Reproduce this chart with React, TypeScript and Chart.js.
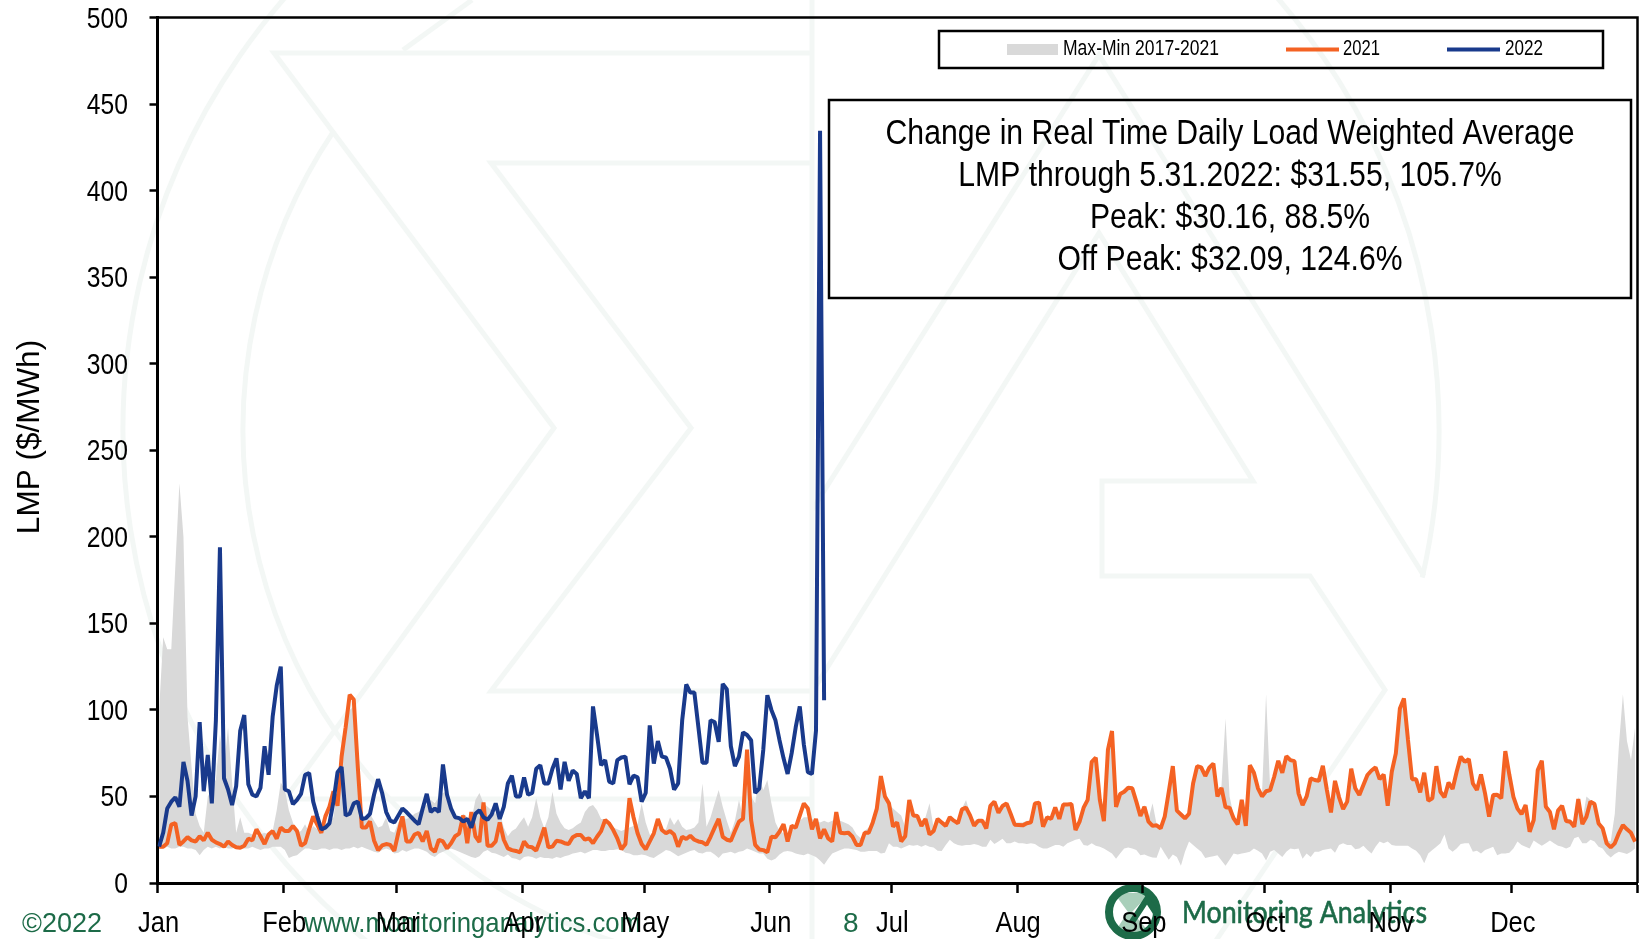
import React, { useEffect, useRef } from "react";
import { Chart, registerables } from "chart.js";

Chart.register(...registerables);

const monthLabels = ["Jan", "Feb", "Mar", "Apr", "May", "Jun", "Jul", "Aug", "Sep", "Oct", "Nov", "Dec", ""];
const monthStarts = [0, 31, 59, 90, 120, 151, 181, 212, 243, 273, 304, 334, 365];
const yTicks = [0, 50, 100, 150, 200, 250, 300, 350, 400, 450, 500];

const lmp2022 = [
  21,29,43,47,49.5,44,70,59,39,50,
  93,53,74,46,94,194,60.5,54,45,56,
  88,97,57,51,50,55,79,62.5,96,114,
  125,54,53,45.5,48,51.5,62.5,63.5,47,38.5,
  31,32,34.5,47,64,67,39,40,46,47,
  37,37.5,40,51,60,52,41,36,35,39,
  43,41,38.5,36,34,43,51.5,41,43,41,
  68.5,51,43,38,37.5,35.5,37,32,40,42,
  38,36.5,39.5,46,37,44,57.5,62,50,50,
  61,51,52,66,68,57.5,57.5,66,72,54,
  70,59,65,63,49,53,49,102,85.5,68,
  71,58.5,57.5,71,72.5,73,57,62,61,47,
  52,91,69,82,73,72.5,66,54,57.5,94,
  114.7,110,110,90,69.5,69.5,94,93,81.5,115,
  112,79,67.5,73,87,85.5,82.5,52,54.5,77,
  108.5,100,94,82.5,72,63,75,90,102,80,
  64,63,88,434.5,105.6,
];

const lmp2021 = [
  21,21,23,33.7,34.6,22,24,26.5,24.6,24,
  27,24.6,29,25,23.5,22.5,21,24,22,20.6,
  20.4,21.5,25.6,24.6,31,27,22.5,28,30,25.6,
  32,30,30,33,30,21.5,23,31,38.5,33.7,
  29,38.5,44,53,44.6,73,90,108.7,106,67,
  32,32,35.6,24.6,19,21.7,22.5,22,18.6,29,
  38.5,24,24,28,29,24,30,20,18,25,
  24,20,23,27,28.5,39,23,41,27,23.7,
  46.5,21.5,21.5,24,35,25,20,19,18.5,17.7,
  24,21,20.6,18.7,25,32,20.6,21,24.4,24,
  23,22.5,26.4,27.7,27.7,25,25.8,23,26.7,30,
  36.4,34.4,30.6,25.8,19.4,22.5,49,38,28.7,22.5,
  19.4,24,28.7,37,30.6,28.7,30,28,21,26.7,
  25.4,27.3,25,24,23.5,22,26.7,32,37,26.7,
  25,24.4,30,35.4,37,77,36.4,22,19.4,19,
  17.7,26.7,26.4,29.6,34,24,33,32,39,46,
  43,31,37,25.8,31,25.8,24,41,29,28.7,
  29,26.7,22,22,29,29,35,43,61.8,50,
  46,32.5,35,24,27,48,39,38.7,33,37,
  28,30,37,35,33,38,36,34.5,42.5,43.5,
  39,33,36,36,31.5,44.5,47,40.6,44.5,46,
  40,33.7,33.5,33.3,34.5,35,46,46.4,32.5,38,
  37,43.7,37,45.4,45.4,45.6,30.6,35.4,43.5,48,
  70,72.4,48,35.8,77,87.8,44,51.4,52.7,55,
  54.7,47,38.7,44,35.4,33,33.3,31.6,38.3,52.7,
  67.5,41.8,39.6,37.3,40,57.5,67.5,66.8,61.8,66.6,
  69,50,55,43.7,43.5,37.3,33.9,48,33,68,
  63.7,54.7,50,53,53.7,61.4,70.6,63.7,73.3,71,
  70.4,51.8,45,50,60.4,59.5,59,67.7,53.7,40.8,
  59,49.5,42.7,47,66,54.7,50.8,56.6,62.4,65,
  66.8,60,62.7,44.6,64.3,74.9,100.8,106.6,82.6,60,
  59.9,52.3,63.7,47.5,48.9,67.5,52.7,49.5,58,54.3,
  64.3,73,70,71.6,57.5,53.7,62.7,51.8,38.3,50.8,
  51,48.9,76.2,62.4,49.8,43,39.8,45,29.6,36.4,
  65.2,70.6,44,41,31,41.8,44.6,35.8,35.4,32.5,
  48.5,34,38.3,47,45.6,34.4,31.6,22.9,20.6,22.9,
  28.7,33.5,31,29,23.9,
];

const bandMax = [
  100,142,135,135,183,231,200,96,67,40,
  33,29,50,54,60,86,67,90,58,29,
  38,29,29,28,27,28,29,28,30,42,
  58,54,42,35,29,30,34,29,33,31,
  32,33,35,38,55,70,90,100,102,78,
  36,37,40,36,32,33,38,30,29,35,
  38,37,38,40,41,44,45,48,46,50,
  52,53,42,38,37,40,38,36,48,52,
  46,44,42,40,41,32,27,30,31.5,35,
  38,32.5,38,49,38,31.6,38,52.7,40,35,
  31.6,30.6,31.6,33.5,35,41,44,45,42,37,
  37,33.5,32,31,30,31,32,33,34,46,
  35,28,27,32.5,30,31,38,33.5,37,32.5,
  30.6,31,32,35,57.5,32.5,38,46,53.7,44,
  36,29,36,48,38,61,50,46,61,53.7,
  59.5,46,35,30,28.7,25.8,30,33,36,38,
  38,37,36,35,36,35,36,37,36,35,
  34,32,28,26,30,32,36,44,60,52,
  45.6,43,41,39,32.5,47,40,39,36,38,
  46,32,38,36,35,39,37,35,43,48,
  40,36,37,37,33,45,48,42,45,47,
  41,35,35,35,36,36,47,47,34,39,
  38,44,38,46,46,46,33,36,44,49,
  71,73,50,38,78,88,45,52,54,56,
  55,48,40,45,37,46,34,33,39,53,
  68,43,41,39,41,58,68,67,63,67,
  70,52,56,95,50,39,36,49,35,69,
  65,55,52,109,55,62,71,65,74,72,
  71,53,47,51,61,60,60,68,55,43,
  60,51,45,48,67,56,52,58,63,66,
  67,61,63,46,65,76,101,107,84,62,
  61,54,65,49,50,68,54,51,59,55,
  65,74,71,72,59,55,64,53,40,52,
  52,50,77,64,51,44,41,46,31,38,
  66,71,45,43,33,43,45,37,37,34,
  50,36,50,48,47,36,33,25,24,40,
  79,109,82,71,90,
];

const bandMin = [
  20,20,21,20,20,21,21,20,20,19,
  16,19,21,20,21,20,21,20,20,21,
  20,20,20,21,20,19,20,20,21,21,
  21,19,14.5,15.5,16,18,20,20,19,19,
  20,20,19,20,20,19,20,20,21,20,
  21,20,19,18,17.5,19,20,19,17,17.5,
  19,18,19,20,20,19,18,16,15,17,
  18,19,20,19,18,17,16,15,14.4,15.5,
  18,19,17.5,17,16,15,16.5,14.5,14,13,
  15,15.5,15,14,15,14.5,14.5,14,15,14.5,
  15.5,16,17,17.5,18,17,18,19,19,18.5,
  18.5,19,19,19.5,19,17.5,17,16,16,16.5,
  16,15,14.5,16,17.5,19,18.5,17,15.5,16.5,
  17.5,18.5,19,17.5,17,18,18,16.5,14.5,17,
  17.5,18,17,18,18.5,20,19,18,17,17,
  14,13,14,16.5,18,18.5,18,17,16.5,16,
  17,16,15,13,10.5,14,17,18,19,20,
  20,19.5,19,18,18,18.5,18.5,18.5,17,17.5,
  23,21,21,20,21,22,21.5,22,21,22,
  21,20.5,18.7,18.5,22,25,23,22,21.5,22,
  22,22.5,22,21,21,25,22.5,24,25.5,23,
  23,24,23,23,22.5,23,22.5,21,20,20,
  21,22,22,21,23,24,25,25.5,22,21.5,
  23,21.5,21,20,18.5,17,14,17,20,20.5,
  20,19,16,16.5,15.5,14.8,14.6,21,17,13.5,
  16.5,15,10,18,24,22,20,18,14.5,15,
  15.5,16,13,10,13.5,17,16.5,17,17.5,18,
  20,18.7,17,13,18,19,17,15,18,20,
  19.5,20,14,17,15,18,18,19,19.5,20,
  17.5,22,23,22,22,19.5,20,21.5,19,17,
  21,24,23,24,22,21.5,21.5,21.5,21.5,20,
  18.7,16,11.4,17,19,21,23,28,20,18,
  20,22.5,23,23,18,18.7,17,19,20,21,
  16,17,17,17.5,20,24,22,21,20,24.5,
  23,21.5,23,24.5,23,21.5,21,20,21,25.8,
  26.7,23,23,25,24,21,20,16.7,14.8,16.7,
  18,17.5,16.7,18,20,
];

const legendBand = "Max-Min 2017-2021";
const legend2021 = "2021";
const legend2022 = "2022";
const yTitle = "LMP ($/MWh)";
const noteLines = [
  "Change in Real Time Daily Load Weighted Average",
  "LMP through 5.31.2022: $31.55, 105.7%",
  "Peak: $30.16, 88.5%",
  "Off Peak: $32.09, 124.6%",
];

const SANS = '"Liberation Sans", sans-serif';
const ORANGE = "#f46223";
const BLUE = "#193a8c";
const GREY = "#d9d9d9";
const GREEN = "#1d6b48";
const PALE = "#f3f7f5";
const SQUEEZE = 0.85;

function poly(ctx: CanvasRenderingContext2D, pts: number[][]) {
  ctx.beginPath();
  pts.forEach((p, i) => (i ? ctx.lineTo(p[0], p[1]) : ctx.moveTo(p[0], p[1])));
  ctx.stroke();
}

// the reference's type is a condensed grotesque, which is not installed
function narrowText(ctx: CanvasRenderingContext2D, t: string, x: number, y: number, sx = SQUEEZE) {
  ctx.save();
  ctx.translate(x, y);
  ctx.scale(sx, 1);
  ctx.fillText(t, 0, 0);
  ctx.restore();
}

const background = {
  id: "background",
  beforeDraw(chart: any) {
    const ctx: CanvasRenderingContext2D = chart.ctx;
    ctx.save();
    ctx.fillStyle = "#fff";
    ctx.fillRect(0, 0, chart.width, chart.height);
    ctx.strokeStyle = PALE;
    ctx.lineWidth = 5;
    ctx.lineJoin = "miter";
    const cx = 781, cy = 430;
    ctx.beginPath();
    ctx.arc(cx, cy, 658, Math.atan2(578 - cy, 1424 - cx), Math.PI / 2, true);
    ctx.stroke();
    ctx.beginPath();
    ctx.arc(cx, cy, 538, Math.atan2(133 - cy, 337 - cx), Math.PI / 2, true);
    ctx.stroke();
    poly(ctx, [[812, 53], [274, 53], [554, 428], [285, 799], [812, 799]]);
    poly(ctx, [[812, 163], [491, 163], [691, 428], [491, 691], [812, 691]]);
    poly(ctx, [[812, 0], [812, 939]]);
    poly(ctx, [[403, 50], [472, 0]]);
    poly(ctx, [[812, 510], [1099, 55], [1424, 576]]);
    poly(ctx, [[812, 692], [1099, 233], [1253, 481], [1102, 481], [1102, 576], [1310, 576], [1385, 690], [1186, 985]]);

    // small logo
    ctx.fillStyle = "#a9cfba";
    ctx.beginPath();
    ctx.moveTo(1114, 893);
    ctx.lineTo(1150, 893);
    ctx.lineTo(1132, 912);
    ctx.lineTo(1150, 933);
    ctx.lineTo(1114, 933);
    ctx.lineTo(1128, 912);
    ctx.closePath();
    ctx.fill();
    ctx.lineWidth = 8;
    ctx.strokeStyle = GREEN;
    ctx.beginPath();
    ctx.arc(1133, 912, 24, 0, Math.PI * 2);
    ctx.stroke();
    ctx.strokeStyle = GREEN;
    ctx.lineWidth = 6;
    poly(ctx, [[1132, 922], [1147, 899], [1158, 916]]);

    ctx.fillStyle = GREEN;
    ctx.strokeStyle = GREEN;
    ctx.lineWidth = 0.6;
    ctx.textBaseline = "middle";
    ctx.textAlign = "left";
    ctx.font = `30px Lato, ${SANS}`;
    ctx.fillText("Monitoring Analytics", 1182, 913, 245);
    ctx.strokeText("Monitoring Analytics", 1182, 913, 245);
    ctx.font = `28px ${SANS}`;
    ctx.fillText("©2022", 22, 924, 80);
    ctx.fillText("www.monitoringanalytics.com", 304, 924, 337);
    ctx.fillText("8", 843, 924);
    ctx.restore();
  },
};

const overlay = {
  id: "overlay",
  afterDraw(chart: any) {
    const ctx: CanvasRenderingContext2D = chart.ctx;
    const a = chart.chartArea;
    ctx.save();
    ctx.strokeStyle = "#000";
    ctx.lineWidth = 2.5;
    poly(ctx, [[a.left, a.top], [a.right, a.top], [a.right, a.bottom]]);

    // tick labels, placed by the chart's own scales
    ctx.fillStyle = "#000";
    ctx.font = `29px ${SANS}`;
    ctx.textBaseline = "alphabetic";
    ctx.textAlign = "right";
    chart.scales.y.ticks.forEach((t: any) => {
      narrowText(ctx, String(t.value), 128, chart.scales.y.getPixelForValue(t.value) + 10);
    });
    ctx.font = `30px ${SANS}`;
    ctx.textAlign = "center";
    chart.scales.x.ticks.forEach((t: any, i: number) => {
      narrowText(ctx, monthLabels[i], chart.scales.x.getPixelForValue(t.value) + 1, a.bottom + 49);
    });

    // y axis title
    ctx.save();
    ctx.translate(30, 437);
    ctx.rotate(-Math.PI / 2);
    ctx.font = `31.5px ${SANS}`;
    ctx.textAlign = "center";
    ctx.textBaseline = "middle";
    ctx.fillText(yTitle, 0, 0);
    ctx.restore();

    // legend
    ctx.strokeRect(939, 31, 664, 37);
    ctx.fillStyle = GREY;
    ctx.fillRect(1007, 44, 51, 11);
    ctx.lineWidth = 4;
    ctx.strokeStyle = ORANGE;
    poly(ctx, [[1286, 49.5], [1339, 49.5]]);
    ctx.strokeStyle = BLUE;
    poly(ctx, [[1447, 49.5], [1500, 49.5]]);
    ctx.fillStyle = "#000";
    ctx.font = `22px ${SANS}`;
    ctx.textAlign = "left";
    ctx.textBaseline = "middle";
    ctx.fillText(legendBand, 1063, 49, 156);
    ctx.fillText(legend2021, 1343, 49, 37);
    ctx.fillText(legend2022, 1505, 49, 38);

    // note box
    ctx.strokeStyle = "#000";
    ctx.lineWidth = 2.5;
    ctx.strokeRect(829, 100, 802, 198);
    ctx.font = `35.5px ${SANS}`;
    ctx.textAlign = "center";
    const ys = [134, 176, 218, 260];
    noteLines.forEach((t, i) => narrowText(ctx, t, 1230, ys[i], 0.85));
    ctx.restore();
  },
};

export default function App() {
  const ref = useRef<HTMLCanvasElement>(null);
  useEffect(() => {
    document.body.style.margin = "0";
    const toXY = (v: number[]) => v.map((y, i) => ({ x: i, y }));
    const chart = new Chart(ref.current as HTMLCanvasElement, {
      type: "line",
      data: {
        datasets: [
          { label: legend2022, data: toXY(lmp2022), borderColor: BLUE, borderWidth: 4, pointRadius: 0, tension: 0, fill: false, borderJoinStyle: "bevel" },
          { label: legend2021, data: toXY(lmp2021), borderColor: ORANGE, borderWidth: 4, pointRadius: 0, tension: 0, fill: false, borderJoinStyle: "bevel" },
          { label: legendBand, data: toXY(bandMax), borderWidth: 0, borderColor: "transparent", backgroundColor: GREY, pointRadius: 0, tension: 0, fill: "+1" },
          { label: "Min", data: toXY(bandMin), borderWidth: 0, borderColor: "transparent", pointRadius: 0, tension: 0, fill: false },
        ],
      } as any,
      options: {
        responsive: false,
        animation: false,
        devicePixelRatio: 1,
        layout: { padding: { top: 17.5, right: 7.5, left: 0, bottom: 0 } },
        plugins: { legend: { display: false }, tooltip: { enabled: false }, title: { display: false } },
        scales: {
          x: {
            type: "linear",
            min: -0.4,
            max: 364.6,
            afterBuildTicks: (s: any) => {
              s.ticks = monthStarts.map((m) => ({ value: m - 0.4 }));
            },
            afterFit: (s: any) => {
              s.height = 56;
              s.paddingLeft = 0;
              s.paddingRight = 0;
            },
            border: { display: true, color: "#000", width: 3 },
            grid: { drawOnChartArea: false, drawTicks: true, tickLength: 10, tickColor: "#000", tickWidth: 2.5 },
            ticks: { display: false, autoSkip: false, maxRotation: 0, minRotation: 0 },
          },
          y: {
            type: "linear",
            min: 0,
            max: 500,
            afterBuildTicks: (s: any) => {
              s.ticks = yTicks.map((value) => ({ value }));
            },
            afterFit: (s: any) => {
              s.width = 157.5;
              s.paddingTop = 0;
              s.paddingBottom = 0;
            },
            border: { display: true, color: "#000", width: 3 },
            grid: { drawOnChartArea: false, drawTicks: true, tickLength: 8, tickColor: "#000", tickWidth: 2.5 },
            ticks: { display: false },
          },
        },
      } as any,
      plugins: [background, overlay],
    });
    return () => chart.destroy();
  }, []);
  return <canvas ref={ref} width={1645} height={939} style={{ display: "block", width: 1645, height: 939 }} />;
}
